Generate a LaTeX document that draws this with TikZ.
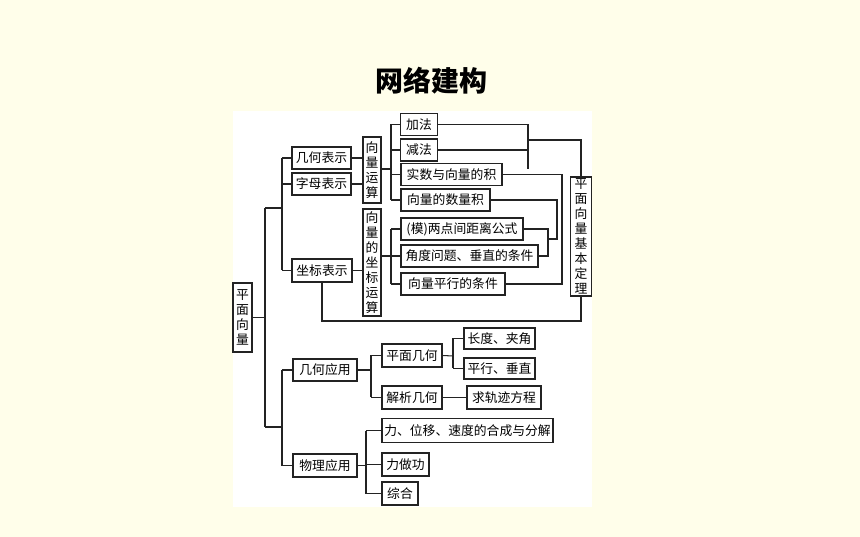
\documentclass[tikz,border=0pt]{standalone}
\usepackage{fontspec}
\setmainfont{Noto Sans CJK SC}
\definecolor{bgyel}{RGB}{255,254,234}
\definecolor{ink}{RGB}{35,35,35}
\newcommand\mybox[6]{\node[box,minimum width=#4pt,minimum height=#5pt] (#1) at (#2,#3) {#6};}
\begin{document}
\begin{tikzpicture}[x=1pt,y=-1pt,
  box/.style={draw=ink, line width=1.1pt, fill=white, inner sep=0pt, text=black,
    font=\fontsize{12.8}{15}\selectfont, align=center},
  ln/.style={draw=ink, line width=1.05pt}]
\fill[bgyel] (0,0) rectangle (860,537);
\useasboundingbox (0,0) rectangle (860,537);
\fill[white] (233,111) rectangle (592,507);
\node[font=\fontsize{28}{30}\selectfont\bfseries, inner sep=0pt] (title) at (431.5,80.5) {网络建构};
% level 1
\mybox{pm}{242.5}{317.5}{19}{69}{平\\面\\向\\量}
% level 2
\mybox{jhbs}{321.5}{158}{59}{22}{几何表示}
\mybox{zmbs}{321.5}{184}{59}{22}{字母表示}
\mybox{zbbs}{322}{270.5}{60}{23}{坐标表示}
\mybox{jhyy}{325}{370}{64}{22}{几何应用}
\mybox{wlyy}{325}{465.5}{64}{23}{物理应用}
% level 3
\mybox{xlys}{372}{170}{18}{66}{向\\量\\运\\算}
\mybox{xlzb}{372}{262.5}{18}{107}{向\\量\\的\\坐\\标\\运\\算}
\mybox{jf}{419}{124.5}{37}{22}{加法}
\mybox{jianf}{419}{150}{37}{22}{减法}
\mybox{sszl}{451.5}{174.5}{101}{22}{实数与向量的积}
\mybox{sll}{445.5}{200}{89}{22}{向量的数量积}
\mybox{mo}{462}{229}{122}{22}{(模)两点间距离公式}
\mybox{jd}{469.5}{256}{137}{22}{角度问题、垂直的条件}
\mybox{px}{453}{284}{104}{22}{向量平行的条件}
\mybox{jbdl}{581}{236.5}{21}{119}{平\\面\\向\\量\\基\\本\\定\\理}
\mybox{pmjh}{412}{355.5}{60}{23}{平面几何}
\mybox{jxjh}{412}{397.5}{60}{23}{解析几何}
\mybox{cd}{499.5}{338.5}{71}{21}{长度、夹角}
\mybox{pxcz}{499.5}{368.5}{71}{21}{平行、垂直}
\mybox{gj}{504}{397.5}{74}{23}{求轨迹方程}
\mybox{lwy}{467.5}{430.5}{171}{24}{力、位移、速度的合成与分解}
\mybox{lzg}{405.5}{464.5}{47}{23}{力做功}
\mybox{zh}{400}{493.5}{36}{23}{综合}
% trunk
\coordinate (ta) at (265,208);
\coordinate (tb) at (265,427);
\coordinate (ua) at (282,208);
\coordinate (ub) at (282,427);
\draw[ln] (pm.east) -- (pm.east -| ta);
\draw[ln] (ta) -- (tb);
\draw[ln] (ta) -- (ua);
\draw[ln] (tb) -- (ub);
\draw[ln] (jhbs.west -| ua) -- (zbbs.west -| ua);
\foreach \n in {jhbs,zmbs,zbbs} \draw[ln] (\n.west -| ua) -- (\n.west);
\draw[ln] (jhyy.west -| ub) -- (wlyy.west -| ub);
\foreach \n in {jhyy,wlyy} \draw[ln] (\n.west -| ub) -- (\n.west);
% to level 3
\draw[ln] (jhbs.east) -- (jhbs.east -| xlys.west);
\draw[ln] (zmbs.east) -- (zmbs.east -| xlys.west);
\draw[ln] (zbbs.east) -- (zbbs.east -| xlzb.west);
\coordinate (va) at (391,169);
\draw[ln] (xlys.east |- va) -- (va);
\draw[ln] (jf.west -| va) -- (sll.west -| va);
\foreach \n in {jf,jianf,sszl,sll} \draw[ln] (\n.west -| va) -- (\n.west);
\draw[ln] (xlzb.east |- jd.west) -- (jd.west);
\draw[ln] (mo.west -| va) -- (px.west -| va);
\foreach \n in {mo,px} \draw[ln] (\n.west -| va) -- (\n.west);
% right side
\coordinate (ra) at (528,169);
\coordinate (rb) at (528,140);
\draw[ln] (jf.east) -| (ra);
\draw[ln] (jianf.east) -- (jianf.east -| ra);
\draw[ln] (rb) -| (jbdl.north);
\coordinate (rc) at (562,284);
\draw[ln] (sszl.east) -| (rc) -- (px.east);
\coordinate (rd) at (548,239);
\coordinate (re) at (557,239);
\draw[ln] (mo.east) -| (rd |- jd.east) -- (jd.east);
\draw[ln] (sll.east) -| (re) -- (rd);
\coordinate (rf) at (581,321);
\draw[ln] (jbdl.south) -- (rf) -| (zbbs.south);
% bottom
\coordinate (wa) at (371,370);
\draw[ln] (jhyy.east) -- (wa);
\draw[ln] (pmjh.west -| wa) -- (jxjh.west -| wa);
\foreach \n in {pmjh,jxjh} \draw[ln] (\n.west -| wa) -- (\n.west);
\coordinate (wb) at (453,356);
\draw[ln] (pmjh.east) -- (wb);
\draw[ln] (cd.west -| wb) -- (pxcz.west -| wb);
\foreach \n in {cd,pxcz} \draw[ln] (\n.west -| wb) -- (\n.west);
\draw[ln] (jxjh.east) -- (gj.west);
\coordinate (wc) at (366,465.5);
\draw[ln] (wlyy.east) -- (wc);
\draw[ln] (lwy.west -| wc) -- (zh.west -| wc);
\foreach \n in {lwy,lzg,zh} \draw[ln] (\n.west -| wc) -- (\n.west);
\end{tikzpicture}
\end{document}
